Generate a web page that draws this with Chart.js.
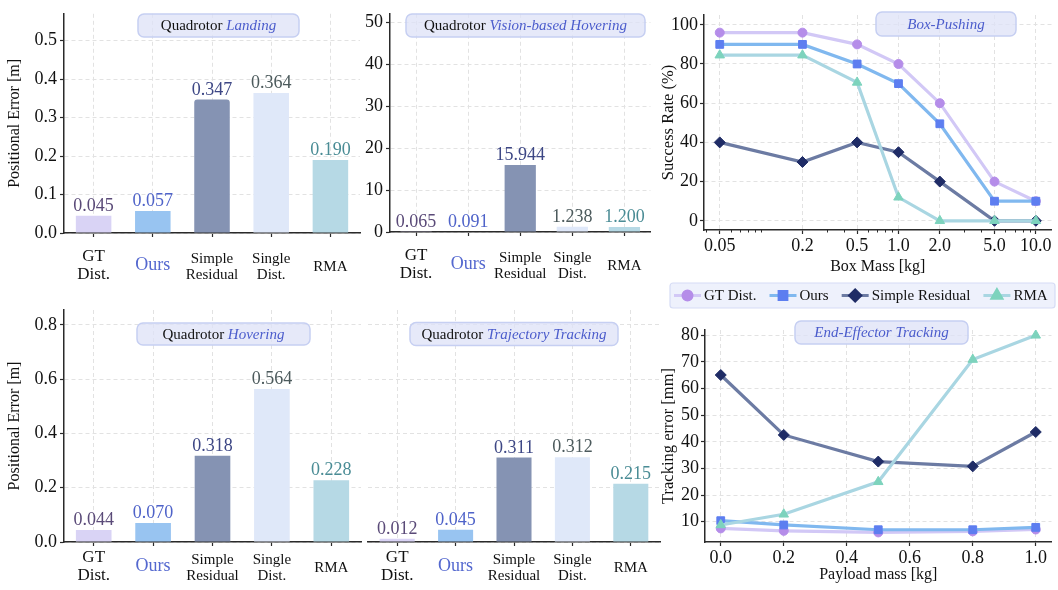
<!DOCTYPE html>
<html>
<head>
<meta charset="utf-8">
<script src="https://cdn.jsdelivr.net/npm/chart.js@4.4.0/dist/chart.umd.min.js"></script>
<style>
  body { margin: 0; background: #fff; width: 1058px; height: 590px; position: relative; overflow: hidden; }
  canvas { position: absolute; }
</style>
</head>
<body>
<canvas id="landing" width="368" height="290" style="left:0;top:0"></canvas>
<canvas id="vision" width="302" height="290" style="left:360px;top:0"></canvas>
<canvas id="box" width="403" height="290" style="left:655px;top:0"></canvas>
<canvas id="hover" width="368" height="300" style="left:0;top:290px"></canvas>
<canvas id="traj" width="302" height="300" style="left:360px;top:290px"></canvas>
<canvas id="ee" width="403" height="310" style="left:655px;top:280px"></canvas>
<script>
// --- data ---
const methods = [["GT", "Dist."], "Ours", ["Simple", "Residual"], ["Single", "Dist."], "RMA"];
const landingErr = [0.045, 0.057, 0.347, 0.364, 0.190];
const visionErr = [0.065, 0.091, 15.944, 1.238, 1.200];
const hoverErr = [0.044, 0.070, 0.318, 0.564, 0.228];
const trajErr = [0.012, 0.045, 0.311, 0.312, 0.215];

const seriesNames = ["GT Dist.", "Ours", "Simple Residual", "RMA"];

const boxMass = [0.05, 0.2, 0.5, 1.0, 2.0, 5.0, 10.0];
const boxMassLabels = ["0.05", "0.2", "0.5", "1.0", "2.0", "5.0", "10.0"];
const boxGT = [96, 96, 90, 80, 60, 20, 10];
const boxOurs = [90, 90, 80, 70, 49.5, 10, 10];
const boxSimple = [40, 30, 40, 35, 20, 0, 0];
const boxRMA = [84.5, 84.5, 70.6, 12, 0, 0, 0];

const payload = [0.0, 0.2, 0.5, 0.8, 1.0];
const payloadLabels = ["0.0", "0.2", "0.4", "0.6", "0.8", "1.0"];
const eeGT = [7.5, 6.6, 6.0, 6.4, 7.1];
const eeOurs = [10.4, 8.8, 7.0, 7.0, 7.9];
const eeSimple = [65.1, 42.6, 32.6, 30.8, 43.7];
const eeRMA = [8.8, 12.8, 25.0, 70.9, 80.0];

// --- style ---
Chart.defaults.font.family = '"Liberation Serif", "Times New Roman", serif';
Chart.defaults.color = "#111";
const AXIS = "#2a2a2a";
const GRID = "#e2e2e2";
const EMBLUE = "#4b5ccc";

const barFill = ["#d9d3f5", "#98c4f1", "#8593b3", "#dfe8f9", "#b6d9e5"];
const barText = ["#5a4a78", "#4f63c9", "#3d4785", "#4c5a5c", "#4a8c95"];
const xLabSize = [17, 18, 15, 15, 15];

const lineColor = ["#d2c8f6", "#80b8ef", "#6c7ba3", "#a9d6e2"];
const markColor = ["#b58de9", "#5d7ef0", "#1f2c66", "#7dd3bd"];
const markStyle = ["circle", "rect", "rectRot", "triangle"];
const markSize = [4.5, 5.5, 5.5, 5.5];

// title tag inside each panel
const tagBox = {
  id: "tagBox",
  afterDraw(chart, args, o) {
    if (!o || !o.em) return;
    const ctx = chart.ctx;
    ctx.save();
    ctx.beginPath();
    ctx.roundRect(o.cx - o.w / 2, o.cy - o.h / 2, o.w, o.h, 6);
    ctx.fillStyle = "rgba(222,226,247,0.75)";
    ctx.fill();
    ctx.strokeStyle = "#c6cff2";
    ctx.lineWidth = 1.5;
    ctx.stroke();
    const fLead = '15px "Liberation Serif"';
    const fEm = 'italic 15px "Liberation Serif"';
    ctx.font = fLead;
    const lead = o.lead ? o.lead + " " : "";
    const wl = ctx.measureText(lead).width;
    ctx.font = fEm;
    const we = ctx.measureText(o.em).width;
    let x = o.cx - (wl + we) / 2;
    ctx.textBaseline = "middle";
    ctx.textAlign = "left";
    if (lead) {
      ctx.font = fLead;
      ctx.fillStyle = "#111";
      ctx.fillText(lead, x, o.cy + 1);
      x += wl;
    }
    ctx.font = fEm;
    ctx.fillStyle = EMBLUE;
    ctx.fillText(o.em, x, o.cy + 1);
    ctx.restore();
  }
};

// numbers above bars
const barValues = {
  id: "barValues",
  afterDatasetsDraw(chart) {
    const ctx = chart.ctx;
    const ds = chart.data.datasets[0];
    ctx.save();
    ctx.font = '18px "Liberation Serif"';
    ctx.textAlign = "center";
    ctx.textBaseline = "alphabetic";
    chart.getDatasetMeta(0).data.forEach((bar, i) => {
      ctx.fillStyle = barText[i];
      ctx.fillText(ds.data[i].toFixed(3), bar.x, bar.y - 5);
    });
    ctx.restore();
  }
};

function barChart(id, values, o) {
  return new Chart(document.getElementById(id), {
    type: "bar",
    data: {
      labels: methods,
      datasets: [{
        data: values,
        backgroundColor: barFill,
        borderWidth: 0,
        barPercentage: 0.6,
        categoryPercentage: 1,
        borderRadius: (c) => (o.roundIdx === c.dataIndex ? 3 : 0)
      }]
    },
    options: {
      responsive: false,
      animation: false,
      devicePixelRatio: 1,
      layout: { padding: { top: o.padTop, right: o.padRight, left: o.padLeft || 0, bottom: 0 } },
      plugins: { legend: { display: false }, tooltip: { enabled: false }, tagBox: o.tag },
      scales: {
        x: {
          grid: { offset: false, color: GRID, tickColor: AXIS, tickLength: 4, tickWidth: 1.2 },
          border: { color: AXIS, width: 1.5, dash: [4, 3] },
          ticks: {
            padding: o.xPad,
            maxRotation: 0,
            autoSkip: false,
            crossAlign: "center",
            font: (c) => ({ size: xLabSize[c.index], lineHeight: 1.05 }),
            color: (c) => (c.index === 1 ? "#5468cf" : "#111")
          },
          afterFit: (s) => { s.height = o.xHeight; }
        },
        y: {
          min: 0,
          max: o.yMax,
          afterBuildTicks: (s) => { s.ticks = o.yTicks.map((v) => ({ value: v })); },
          grid: { color: GRID, tickColor: AXIS, tickLength: 4, tickWidth: 1.2, drawTicks: o.showY },
          border: { display: o.showY, color: AXIS, width: 1.5, dash: [4, 3] },
          ticks: {
            display: o.showY,
            padding: 3,
            font: { size: 18 },
            callback: (v) => v.toFixed(o.dec)
          },
          title: { display: !!o.yTitle, text: o.yTitle, font: { size: 16 }, padding: 0 },
          afterFit: (s) => { s.width = o.yWidth; }
        }
      }
    },
    plugins: [barValues, tagBox]
  });
}

barChart("landing", landingErr, {
  yMax: 0.57, yTicks: [0, 0.1, 0.2, 0.3, 0.4, 0.5], dec: 1, showY: true,
  yWidth: 59, padLeft: 5, padTop: 2, padRight: 5, xHeight: 57, xPad: 20, roundIdx: 2,
  yTitle: "Positional Error [m]",
  tag: { lead: "Quadrotor", em: "Landing", cx: 218.5, cy: 25.5, w: 161, h: 23 }
});
barChart("vision", visionErr, {
  yMax: 52, yTicks: [0, 10, 20, 30, 40, 50], dec: 0, showY: true,
  yWidth: 30, padTop: 2, padRight: 5, xHeight: 58, xPad: 20,
  tag: { lead: "Quadrotor", em: "Vision-based Hovering", cx: 165.5, cy: 25.5, w: 239, h: 23 }
});
barChart("hover", hoverErr, {
  yMax: 0.855, yTicks: [0, 0.2, 0.4, 0.6, 0.8], dec: 1, showY: true,
  yWidth: 59, padLeft: 5, padTop: 20, padRight: 7, xHeight: 48, xPad: 12,
  yTitle: "Positional Error [m]",
  tag: { lead: "Quadrotor", em: "Hovering", cx: 223.5, cy: 44, w: 173, h: 22 }
});
barChart("traj", trajErr, {
  yMax: 0.855, yTicks: [0, 0.2, 0.4, 0.6, 0.8], dec: 1, showY: false,
  yWidth: 8, padTop: 20, padRight: 2, xHeight: 48, xPad: 12,
  tag: { lead: "Quadrotor", em: "Trajectory Tracking", cx: 154, cy: 44, w: 208, h: 23 }
});

// small ticks between the labelled log ticks
const minorTicks = {
  id: "minorTicks",
  afterDraw(chart) {
    const s = chart.scales.x;
    if (s.type !== "logarithmic") return;
    const ctx = chart.ctx;
    ctx.save();
    ctx.strokeStyle = AXIS;
    ctx.lineWidth = 1;
    [0.01, 0.1, 1].forEach((d) => {
      for (let k = 1; k <= 9; k++) {
        const v = +(k * d).toFixed(3);
        if (v < s.min || v > s.max || boxMass.includes(v)) continue;
        const px = Math.round(s.getPixelForValue(v)) + 0.5;
        ctx.beginPath();
        ctx.moveTo(px, s.top);
        ctx.lineTo(px, s.top + 2.5);
        ctx.stroke();
      }
    });
    ctx.restore();
  }
};

// legend drawn as one row in a light box
const rowLegend = {
  id: "rowLegend",
  afterDraw(chart, args, o) {
    if (!o || !o.w) return;
    const ctx = chart.ctx;
    ctx.save();
    ctx.beginPath();
    ctx.roundRect(o.x, o.y, o.w, o.h, 3);
    ctx.fillStyle = "rgba(235,238,251,0.85)";
    ctx.fill();
    ctx.strokeStyle = "#d6dcf5";
    ctx.lineWidth = 1.2;
    ctx.stroke();
    ctx.font = '15px "Liberation Serif"';
    ctx.textBaseline = "middle";
    const cy = o.y + o.h / 2;
    let x = o.x + 4;
    seriesNames.forEach((name, i) => {
      ctx.strokeStyle = lineColor[i];
      ctx.lineWidth = 3;
      ctx.beginPath();
      ctx.moveTo(x, cy);
      ctx.lineTo(x + 27, cy);
      ctx.stroke();
      ctx.fillStyle = markColor[i];
      ctx.strokeStyle = markColor[i];
      Chart.helpers.drawPoint(ctx, { pointStyle: markStyle[i], radius: markSize[i], rotation: 0, borderWidth: 1 }, x + 13.5, cy);
      x += 30;
      ctx.fillStyle = "#111";
      ctx.fillText(name, x, cy + 1);
      x += ctx.measureText(name).width + 13;
    });
    ctx.restore();
  }
};

function lineSets(xs, lists) {
  return lists.map((ys, i) => ({
    label: seriesNames[i],
    data: xs.map((x, j) => ({ x: x, y: ys[j] })),
    borderColor: lineColor[i],
    backgroundColor: markColor[i],
    pointBackgroundColor: markColor[i],
    pointBorderColor: markColor[i],
    pointBorderWidth: 1,
    pointStyle: markStyle[i],
    pointRadius: markSize[i],
    borderWidth: 3.2,
    tension: 0,
    order: 3 - i
  }));
}

function lineChart(id, o) {
  return new Chart(document.getElementById(id), {
    type: "line",
    data: { datasets: lineSets(o.xs, o.series) },
    options: {
      responsive: false,
      animation: false,
      devicePixelRatio: 1,
      layout: { padding: { top: o.padTop, right: 3, left: 4, bottom: o.padBottom } },
      plugins: { legend: { display: false }, tooltip: { enabled: false }, tagBox: o.tag, rowLegend: o.legend || {} },
      scales: {
        x: {
          type: o.xType,
          min: o.xMin,
          max: o.xMax,
          afterBuildTicks: (s) => { s.ticks = o.xTicks.map((v) => ({ value: v })); },
          grid: { color: GRID, tickColor: AXIS, tickLength: 4, tickWidth: 1.2 },
          border: { color: AXIS, width: 1.5, dash: [4, 3] },
          ticks: { padding: 1, maxRotation: 0, autoSkip: false, font: { size: 18 }, callback: (v, i) => o.xLabels[i] },
          title: { display: true, text: o.xTitle, font: { size: 16 }, padding: 0 },
          afterFit: (s) => { s.height = o.xHeight; }
        },
        y: {
          min: o.yMin,
          max: o.yMax,
          afterBuildTicks: (s) => { s.ticks = o.yTicks.map((v) => ({ value: v })); },
          grid: { color: GRID, tickColor: AXIS, tickLength: 4, tickWidth: 1.2 },
          border: { color: AXIS, width: 1.5, dash: [4, 3] },
          ticks: { padding: 2, font: { size: 18 }, callback: (v) => String(v) },
          title: { display: true, text: o.yTitle, font: { size: 16.5 }, padding: 0 },
          afterFit: (s) => { s.width = o.yWidth; }
        }
      }
    },
    plugins: [tagBox, minorTicks, rowLegend]
  });
}

lineChart("box", {
  xs: boxMass, series: [boxGT, boxOurs, boxSimple, boxRMA],
  xType: "logarithmic", xMin: 0.0384, xMax: 13.0, xTicks: boxMass, xLabels: boxMassLabels,
  yMin: -4.7, yMax: 105, yTicks: [0, 20, 40, 60, 80, 100],
  xTitle: "Box Mass [kg]", yTitle: "Success Rate (%)",
  yWidth: 45, padTop: 15, padBottom: 14, xHeight: 46,
  tag: { em: "Box-Pushing", cx: 291, cy: 24, w: 140, h: 24 }
});
lineChart("ee", {
  xs: payload, series: [eeGT, eeOurs, eeSimple, eeRMA],
  xType: "linear", xMin: -0.05, xMax: 1.05, xTicks: [0, 0.2, 0.4, 0.6, 0.8, 1.0], xLabels: payloadLabels,
  yMin: 2.4, yMax: 82, yTicks: [10, 20, 30, 40, 50, 60, 70, 80],
  xTitle: "Payload mass [kg]", yTitle: "Tracking error [mm]",
  yWidth: 46, padTop: 50, padBottom: 6, xHeight: 42,
  tag: { em: "End-Effector Tracking", cx: 226.5, cy: 52.5, w: 173, h: 23 },
  legend: { x: 15, y: 3, w: 385, h: 25 }
});
</script>
</body>
</html>
